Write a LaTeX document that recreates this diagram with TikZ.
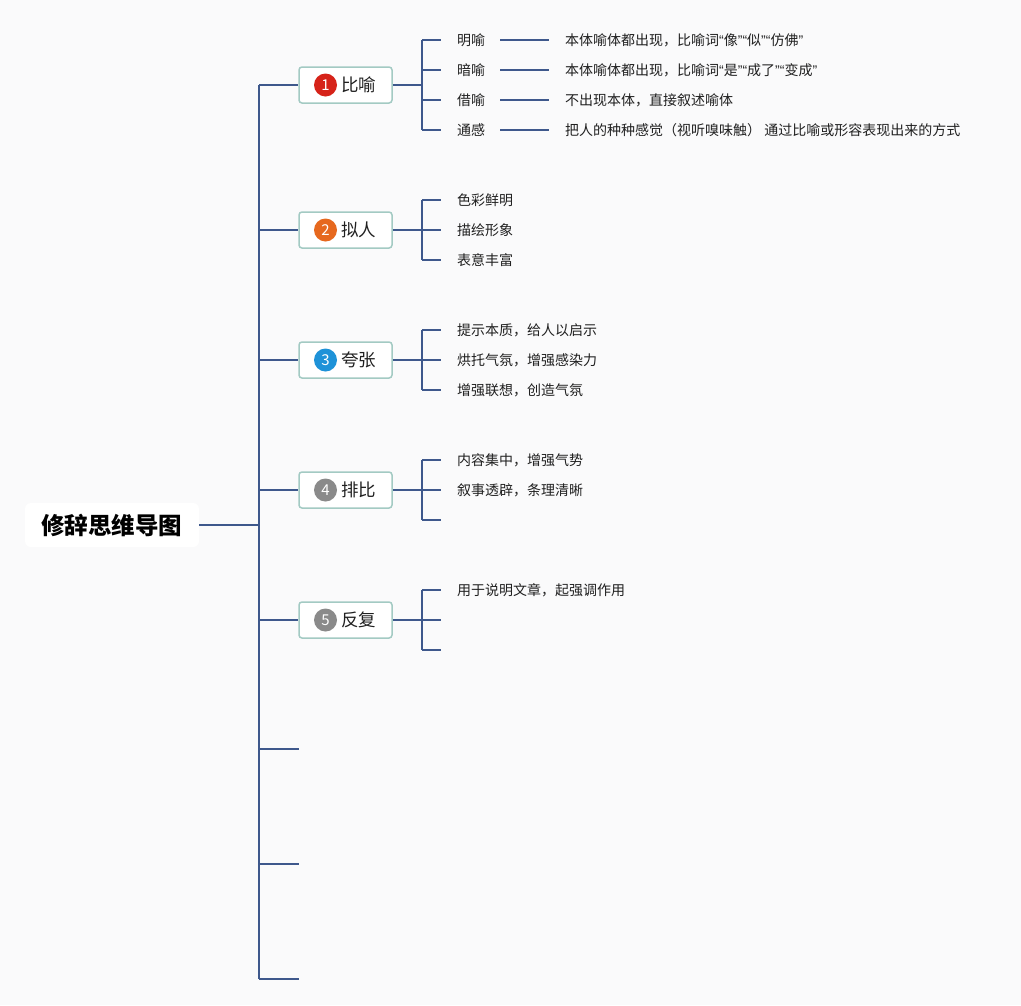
\documentclass[tikz,border=0pt]{standalone}
\usepackage{fontspec}
\setmainfont{Noto Sans CJK SC}
\newfontfamily\latinq{Liberation Sans}
\newcommand{\myLQ}{{\latinq “}}
\newcommand{\myRQ}{{\latinq ”}}
\definecolor{bg}{RGB}{250,250,251}
\definecolor{ln}{RGB}{62,88,140}
\definecolor{bd}{RGB}{163,202,195}
\definecolor{txt}{RGB}{32,32,32}
\definecolor{c1}{RGB}{214,35,25}
\definecolor{c2}{RGB}{230,104,30}
\definecolor{c3}{RGB}{30,146,216}
\definecolor{c4}{RGB}{138,138,138}
\begin{document}
\begin{tikzpicture}[x=1pt,y=-1pt,
  conn/.style={draw=ln, line width=2pt},
  rootbox/.style={fill=white, rounded corners=6pt, minimum width=174pt, minimum height=44pt, inner sep=0pt, text=black, font=\fontsize{23.5}{24}\selectfont\bfseries},
  mainbox/.style={draw=bd, line width=1.5pt, fill=white, rounded corners=3pt, minimum width=93pt, minimum height=36pt, inner sep=0pt},
  num/.style={circle, fill=#1, text=white, minimum size=23pt, inner sep=0pt, font=\fontsize{15}{15}\selectfont},
  mainlbl/.style={anchor=west, inner sep=0pt, font=\fontsize{17.5}{18}\selectfont, text=txt},
  lbl/.style={anchor=west, inner sep=4pt, font=\fontsize{14}{16}\selectfont, text=txt}
]
\fill[bg] (0,0) rectangle (1021,1005);
\useasboundingbox (0,0) rectangle (1021,1005);

% root
\node[rootbox] (root) at (112,525) {修辞思维导图};
\coordinate (tTop) at (259,85);
\coordinate (tBot) at (259,979);
\coordinate (tRoot) at (259,525);
\draw[conn] (root.east) -- (tRoot);
\draw[conn] (tTop) -- (tBot);

% main boxes
\node[mainbox] (b1) at (345.5,85) {};
\node[num=c1] (n1) at (325.5,85) {1};
\node[mainlbl] (t1) at (341,85) {比喻};
\node[mainbox] (b2) at (345.5,230) {};
\node[num=c2] (n2) at (325.5,230) {2};
\node[mainlbl] (t2) at (341,230) {拟人};
\node[mainbox] (b3) at (345.5,360) {};
\node[num=c3] (n3) at (325.5,360) {3};
\node[mainlbl] (t3) at (341,360) {夸张};
\node[mainbox] (b4) at (345.5,490) {};
\node[num=c4] (n4) at (325.5,490) {4};
\node[mainlbl] (t4) at (341,490) {排比};
\node[mainbox] (b5) at (345.5,620) {};
\node[num=c4] (n5) at (325.5,620) {5};
\node[mainlbl] (t5) at (341,620) {反复};

\foreach \b in {b1,b2,b3,b4,b5} {
  \draw[conn] (\b.west -| tTop) -- (\b.west);
}
% empty branches
\coordinate (e6) at (299,749);
\coordinate (e7) at (299,864);
\coordinate (e8) at (299,979);
\foreach \e in {e6,e7,e8} {
  \draw[conn] (\e -| tTop) -- (\e);
}

% branch 1 children
\coordinate (j1) at (422,85);
\draw[conn] (b1.east) -- (j1);
\node[lbl] (m11) at (453,40) {明喻};
\node[lbl] (m12) at (453,70) {暗喻};
\node[lbl] (m13) at (453,100) {借喻};
\node[lbl] (m14) at (453,130) {通感};
\draw[conn] (m11.west -| j1) -- (m14.west -| j1);
\foreach \m in {m11,m12,m13,m14} {
  \draw[conn] (\m.west -| j1) -- ([xshift=-12pt]\m.west);
}
\node[lbl] (d11) at (561,40) {本体喻体都出现，比喻词\myLQ 像\myRQ\myLQ 似\myRQ\myLQ 仿佛\myRQ};
\node[lbl] (d12) at (561,70) {本体喻体都出现，比喻词\myLQ 是\myRQ\myLQ 成了\myRQ\myLQ 变成\myRQ};
\node[lbl] (d13) at (561,100) {不出现本体，直接叙述喻体};
\node[lbl] (d14) at (561,130) {把人的种种感觉（视听嗅味触） 通过比喻或形容表现出来的方式};
\draw[conn] ([xshift=11pt]m11.east) -- ([xshift=-12pt]d11.west);
\draw[conn] ([xshift=11pt]m12.east) -- ([xshift=-12pt]d12.west);
\draw[conn] ([xshift=11pt]m13.east) -- ([xshift=-12pt]d13.west);
\draw[conn] ([xshift=11pt]m14.east) -- ([xshift=-12pt]d14.west);

% branch 2 children
\coordinate (j2) at (422,230);
\draw[conn] (b2.east) -- (j2);
\node[lbl] (m21) at (453,200) {色彩鲜明};
\node[lbl] (m22) at (453,230) {描绘形象};
\node[lbl] (m23) at (453,260) {表意丰富};
\draw[conn] (m21.west -| j2) -- (m23.west -| j2);
\foreach \m in {m21,m22,m23} {
  \draw[conn] (\m.west -| j2) -- ([xshift=-12pt]\m.west);
}

% branch 3 children
\coordinate (j3) at (422,360);
\draw[conn] (b3.east) -- (j3);
\node[lbl] (m31) at (453,330) {提示本质，给人以启示};
\node[lbl] (m32) at (453,360) {烘托气氛，增强感染力};
\node[lbl] (m33) at (453,390) {增强联想，创造气氛};
\draw[conn] (m31.west -| j3) -- (m33.west -| j3);
\foreach \m in {m31,m32,m33} {
  \draw[conn] (\m.west -| j3) -- ([xshift=-12pt]\m.west);
}

% branch 4 children
\coordinate (j4) at (422,490);
\draw[conn] (b4.east) -- (j4);
\node[lbl] (m41) at (453,460) {内容集中，增强气势};
\node[lbl] (m42) at (453,490) {叙事透辟，条理清晰};
\coordinate (k43) at (441,520);
\draw[conn] (m41.west -| j4) -- (k43 -| j4);
\foreach \m in {m41,m42} {
  \draw[conn] (\m.west -| j4) -- ([xshift=-12pt]\m.west);
}
\draw[conn] (k43 -| j4) -- (k43);

% branch 5 children
\coordinate (j5) at (422,620);
\draw[conn] (b5.east) -- (j5);
\node[lbl] (m51) at (453,590) {用于说明文章，起强调作用};
\coordinate (k52) at (441,620);
\coordinate (k53) at (441,650);
\draw[conn] (m51.west -| j5) -- (k53 -| j5);
\draw[conn] (m51.west -| j5) -- ([xshift=-12pt]m51.west);
\draw[conn] (k52 -| j5) -- (k52);
\draw[conn] (k53 -| j5) -- (k53);
\end{tikzpicture}
\end{document}
